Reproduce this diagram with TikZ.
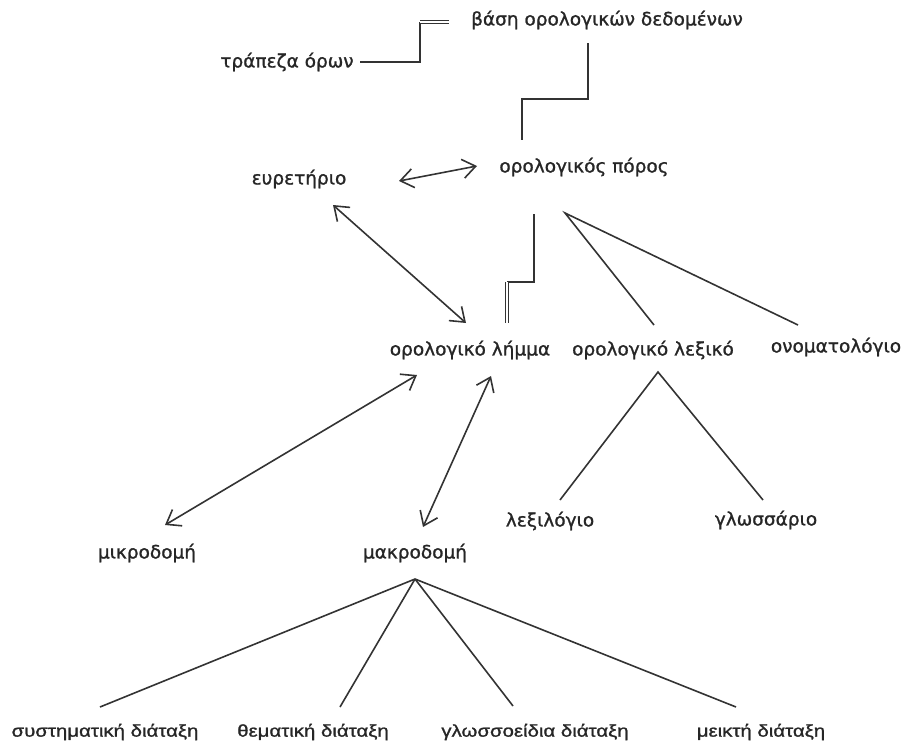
\documentclass[tikz,border=0pt]{standalone}
\usepackage{fontspec}
\setmainfont{DejaVu Sans}[FakeBold=1.2]
\newfontfamily\leaffont{Liberation Sans}[FakeStretch=1.2, FakeBold=1.2]
\usetikzlibrary{arrows.meta,calc}

\tikzset{
  term/.style={inner sep=0pt, font=\fontsize{18.5}{22}\selectfont, text=black!85},
  leaf/.style={inner sep=0pt, font=\leaffont\fontsize{17}{20}\selectfont, text=black!85},
  link/.style={draw=black!80, line width=1.6pt},
  dbl/.style={draw=black!80, line width=0.9pt, double=white, double distance=2pt},
  biarrow/.style={link, {Straight Barb[length=13pt,width=19pt]}-{Straight Barb[length=13pt,width=19pt]}}
}

\begin{document}
\begin{tikzpicture}[x=1pt,y=-1pt]
  \useasboundingbox (0,0) rectangle (911,744);

  % terms
  \node[term] (basi)  at (607,20)  {βάση ορολογικών δεδομένων};
  \node[term] (trap)  at (287,62)  {τράπεζα όρων};
  \node[term] (poros) at (584,167) {ορολογικός πόρος};
  \node[term] (eur)   at (299,179) {ευρετήριο};
  \node[term] (lemma) at (470,350) {ορολογικό λήμμα};
  \node[term] (lex)   at (653,350) {ορολογικό λεξικό};
  \node[term] (onom)  at (836,347) {ονοματολόγιο};
  \node[term] (lexil) at (550,521) {λεξιλόγιο};
  \node[term] (gloss) at (766,520) {γλωσσάριο};
  \node[term] (mikro) at (147,553) {μικροδομή};
  \node[term] (makro) at (415,553) {μακροδομή};

  % arrangement types
  \node[leaf] (syst) at (105,732) {συστηματική διάταξη};
  \node[leaf] (them) at (313,732) {θεματική διάταξη};
  \node[leaf] (glos) at (535,732) {γλωσσοείδια διάταξη};
  \node[leaf] (meik) at (761,732) {μεικτή διάταξη};

  % term bank -> database
  \coordinate (tbA) at ($(trap)+(73,0)$);
  \coordinate (tbB) at ($(basi)+(-187,2)$);
  \coordinate (tbC) at ($(basi)+(-158,2)$);
  \draw[link] (tbA) -| (tbB);
  \draw[dbl] (tbB) -- (tbC);

  % database -> terminological resource
  \coordinate (dbA) at ($(basi)+(-19,23)$);
  \coordinate (dbB) at ($(poros)+(-62,-27)$);
  \draw[link] (dbA) -- ($(dbA)+(0,56)$) -| (dbB);

  % resource <-> index
  \draw[biarrow] ($(eur)+(100,2)$) -- ($(poros)+(-107,-1)$);
  \draw[biarrow] ($(eur)+(34,26)$) -- ($(lemma)+(-4,-27)$);

  % resource -> entry
  \coordinate (reA) at ($(poros)+(-50,47)$);
  \coordinate (reB) at ($(lemma)+(37,-68)$);
  \coordinate (reC) at ($(lemma)+(37,-27)$);
  \draw[link] (reA) |- (reB);
  \draw[dbl] (reB) -- (reC);

  % resource -> dictionary, onomasiology
  \coordinate (rsApex) at ($(poros)+(-19,46)$);
  \draw[link] ($(lex)+(1,-25)$) -- (rsApex) -- ($(onom)+(-38,-22)$);

  % dictionary -> vocabulary, glossary
  \coordinate (lxApex) at ($(lex)+(5,22)$);
  \draw[link] ($(lexil)+(10,-21)$) -- (lxApex) -- ($(gloss)+(-3,-20)$);

  % entry <-> micro / macro structure
  \draw[biarrow] ($(lemma)+(-53,25)$) -- ($(mikro)+(18,-28)$);
  \draw[biarrow] ($(lemma)+(21,26)$) -- ($(makro)+(8,-26)$);

  % macro structure -> arrangements
  \coordinate (mkApex) at ($(makro)+(0,26)$);
  \draw[link] (mkApex) -- ($(syst)+(-5,-25)$);
  \draw[link] (mkApex) -- ($(them)+(27,-25)$);
  \draw[link] (mkApex) -- ($(glos)+(-22,-26)$);
  \draw[link] (mkApex) -- ($(meik)+(-25,-25)$);
\end{tikzpicture}
\end{document}
